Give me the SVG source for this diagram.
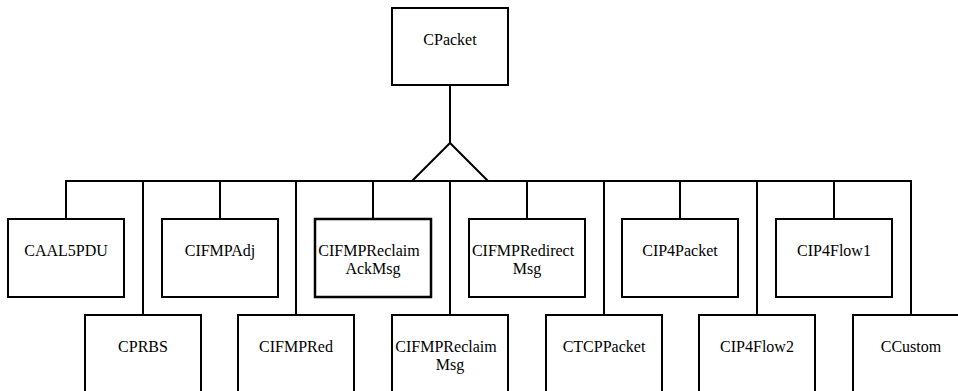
<svg xmlns="http://www.w3.org/2000/svg" width="958" height="391" viewBox="0 0 958 391">
  <rect width="958" height="391" fill="#fff"/>

  <!-- inheritance connectors -->
  <g id="connectors" fill="none" stroke="#000" stroke-width="2">
    <line x1="450" y1="85" x2="450" y2="143"/>
    <polyline points="412,181 450,143 488,181"/>
    <line x1="65" y1="181" x2="912" y2="181"/>
    <line x1="66" y1="181" x2="66" y2="219"/>
    <line x1="143" y1="181" x2="143" y2="315"/>
    <line x1="220" y1="181" x2="220" y2="219"/>
    <line x1="296" y1="181" x2="296" y2="315"/>
    <line x1="373" y1="181" x2="373" y2="219"/>
    <line x1="450" y1="181" x2="450" y2="315"/>
    <line x1="527" y1="181" x2="527" y2="219"/>
    <line x1="604" y1="181" x2="604" y2="315"/>
    <line x1="680" y1="181" x2="680" y2="219"/>
    <line x1="757" y1="181" x2="757" y2="315"/>
    <line x1="834" y1="181" x2="834" y2="219"/>
    <line x1="911" y1="181" x2="911" y2="315"/>
  </g>

  <!-- class boxes: white fill, black outline -->
  <g fill="#fff" stroke="#000" stroke-width="2">
    <rect x="392" y="8" width="116" height="77"/>
    <rect x="8" y="219" width="116" height="78"/>
    <rect x="162" y="219" width="116" height="78"/>
    <rect x="315" y="219" width="116" height="78" stroke-width="2.5"/>
    <rect x="469" y="219" width="116" height="78"/>
    <rect x="622" y="219" width="116" height="78"/>
    <rect x="776" y="219" width="116" height="78"/>
    <rect x="85" y="315" width="116" height="80"/>
    <rect x="238" y="315" width="116" height="80"/>
    <rect x="392" y="315" width="116" height="80"/>
    <rect x="546" y="315" width="116" height="80"/>
    <rect x="699" y="315" width="116" height="80"/>
    <rect x="853" y="315" width="116" height="80"/>
  </g>

  <!-- class names -->
  <g font-family="Liberation Serif" font-size="16" text-anchor="middle" fill="#000">
    <g id="CPacket"><text x="450" y="45">CPacket</text></g>
    <g id="CAAL5PDU"><text x="66" y="256">CAAL5PDU</text></g>
    <g id="CIFMPAdj"><text x="220" y="256">CIFMPAdj</text></g>
    <g id="CIFMPReclaimAckMsg"><text x="369" y="256">CIFMPReclaim</text><text x="373" y="274">AckMsg</text></g>
    <g id="CIFMPRedirectMsg"><text x="523" y="256">CIFMPRedirect</text><text x="527" y="274">Msg</text></g>
    <g id="CIP4Packet"><text x="680" y="256">CIP4Packet</text></g>
    <g id="CIP4Flow1"><text x="834" y="256">CIP4Flow1</text></g>
    <g id="CPRBS"><text x="143" y="352">CPRBS</text></g>
    <g id="CIFMPRed"><text x="296" y="352">CIFMPRed</text></g>
    <g id="CIFMPReclaimMsg"><text x="446" y="352">CIFMPReclaim</text><text x="450" y="370">Msg</text></g>
    <g id="CTCPPacket"><text x="604" y="352">CTCPPacket</text></g>
    <g id="CIP4Flow2"><text x="757" y="352">CIP4Flow2</text></g>
    <g id="CCustom"><text x="911" y="352">CCustom</text></g>
  </g>
</svg>
